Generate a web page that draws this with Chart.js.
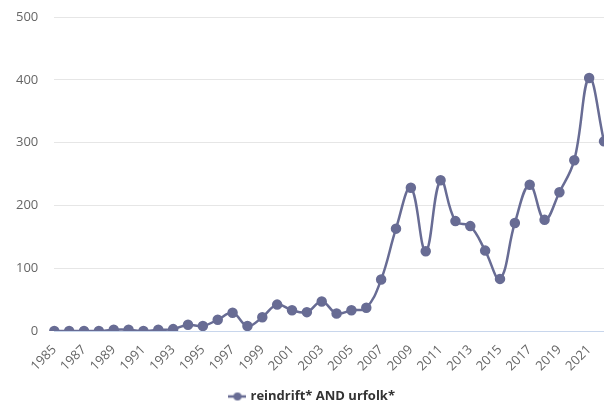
<!DOCTYPE html>
<html>
<head>
<meta charset="utf-8">
<script src="https://cdn.jsdelivr.net/npm/chart.js@4"></script>
<style>
  html, body { margin: 0; padding: 0; background: #fff; overflow: hidden; }
  #wrap { width: 604px; height: 401px; }
</style>
</head>
<body>
<div id="wrap"><canvas id="chart"></canvas></div>
<script>
const years = [];
for (let y = 1985; y <= 2022; y++) years.push(String(y));

// antal träffar per år
const hits = [0, 0, 0, 0, 2, 2, 0, 2, 3, 10, 8, 18, 29, 8, 22, 42, 33, 30, 47, 28,
  33, 37, 82, 163, 228, 127, 240, 175, 167, 128, 83, 172, 233, 177, 221, 272, 403, 302];

const seriesLabel = 'reindrift* AND urfolk*';
const lineColor = 'rgb(104,108,148)';

// legend symbol: line with a dot
const icon = document.createElement('canvas');
icon.width = 18; icon.height = 12;
const ictx = icon.getContext('2d');
ictx.strokeStyle = lineColor; ictx.lineWidth = 2.5;
ictx.beginPath(); ictx.moveTo(0, 6); ictx.lineTo(18, 6); ictx.stroke();
ictx.fillStyle = lineColor;
ictx.beginPath(); ictx.arc(9, 6, 4, 0, Math.PI * 2); ictx.fill();

Chart.defaults.font.family = "'Open Sans', sans-serif";
Chart.defaults.font.size = 13;
Chart.defaults.color = '#666';

// nudge legend a bit right/down like the original
const moveLegend = {
  id: 'moveLegend',
  afterLayout(chart) {
    const l = chart.legend;
    l.left += 11; l.right += 11;
    l.top += 12; l.bottom += 12;
  }
};

new Chart(document.getElementById('chart'), {
  type: 'line',
  data: {
    labels: years,
    datasets: [{
      label: seriesLabel,
      data: hits,
      borderColor: lineColor,
      backgroundColor: lineColor,
      pointBackgroundColor: lineColor,
      borderWidth: 2.5,
      pointRadius: 4,
      tension: 0.4,
      pointStyle: 'circle'
    }]
  },
  plugins: [moveLegend],
  options: {
    responsive: true,
    maintainAspectRatio: false,
    animation: false,
    layout: { autoPadding: false, padding: { top: 17, right: 0, left: 0, bottom: 0 } },
    scales: {
      x: {
        grid: { display: false, drawTicks: false },
        border: { display: false },
        afterFit: (s) => { s.height = 46; s.paddingRight = 0; },
        ticks: {
          autoSkip: false,
          maxRotation: 45,
          minRotation: 45,
          padding: 11,
          font: { size: 13 },
          callback: function (v, i) { return i % 2 === 0 ? this.getLabelForValue(v) : ''; }
        }
      },
      y: {
        min: 0,
        max: 500,
        afterFit: (s) => { s.paddingTop = 0; s.paddingBottom = 0; },
        ticks: { stepSize: 100, padding: 16, font: { size: 13 } },
        border: { display: false },
        grid: {
          drawTicks: false,
          color: (c) => c.tick && c.tick.value === 0 ? 'rgb(200,214,236)' : 'rgb(230,230,230)'
        }
      }
    },
    plugins: {
      legend: {
        position: 'bottom',
        labels: {
          usePointStyle: true,
          pointStyle: icon,
          color: '#333',
          font: { weight: 'bold', size: 13 },
          padding: 1
        }
      },
      tooltip: { enabled: false }
    }
  }
});
</script>
</body>
</html>
